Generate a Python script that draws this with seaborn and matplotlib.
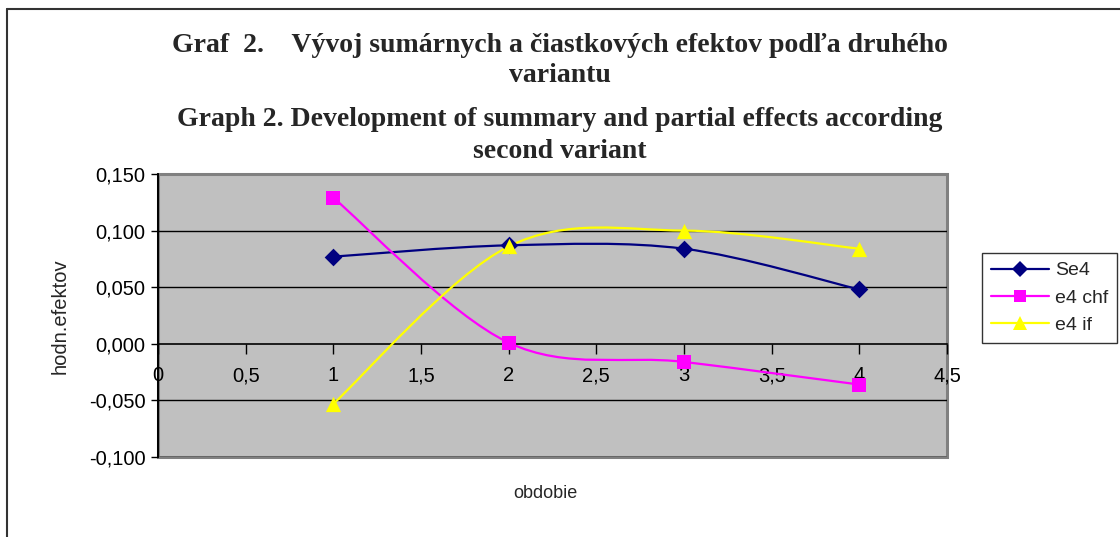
import numpy as np
import pandas as pd
import matplotlib
matplotlib.use("Agg")
import matplotlib.pyplot as plt
import seaborn as sns
from matplotlib.path import Path
from matplotlib.patches import PathPatch
from matplotlib.lines import Line2D
import matplotlib.ticker as ticker

sns.set_style("white")
plt.rcParams.update({'font.family': ['Liberation Sans', 'DejaVu Sans']})

### data ###
periods = [1, 2, 3, 4]
se4 = [0.077, 0.087, 0.084, 0.048]
e4_chf = [0.129, 0.001, -0.016, -0.036]
e4_if = [-0.053, 0.086, 0.100, 0.084]
series_names = ['Se4', 'e4 chf', 'e4 if']
y_ticks = [-0.1, -0.05, 0.0, 0.05, 0.1, 0.15]
x_ticks = [0, 0.5, 1, 1.5, 2, 2.5, 3, 3.5, 4, 4.5]

colors = {'Se4': '#000080', 'e4 chf': '#FF00FF', 'e4 if': '#FFFF00'}
markers = {'Se4': 'D', 'e4 chf': 's', 'e4 if': '^'}
msizes = {'Se4': 9, 'e4 chf': 10, 'e4 if': 11}

df = pd.DataFrame({
    'obdobie': periods * 3,
    'value': se4 + e4_chf + e4_if,
    'series': [s for s in series_names for _ in periods],
})


def smooth_path(xs, ys):
    # excel-like smoothed line: cubic bezier through the points
    pts = np.column_stack([xs, ys])
    n = len(pts)
    verts = [pts[0]]
    codes = [Path.MOVETO]
    for i in range(n - 1):
        p0 = pts[max(i - 1, 0)]
        p1 = pts[i]
        p2 = pts[i + 1]
        p3 = pts[min(i + 2, n - 1)]
        c1 = p1 + (p2 - p0) / 6
        c2 = p2 - (p3 - p1) / 6
        verts += [c1, c2, p2]
        codes += [Path.CURVE4] * 3
    return Path(verts, codes)


fig = plt.figure(figsize=(11.2, 5.37), dpi=100)
ax = fig.add_axes([158 / 1120, 1 - 457 / 537, 789 / 1120, 283 / 537])
ax.set_facecolor('#C0C0C0')

# gridlines
for yv in y_ticks:
    if yv not in (0.0, 0.15):
        ax.axhline(yv, color='black', lw=1, zorder=1)

# smoothed lines
for name in series_names:
    d = df[df['series'] == name]
    patch = PathPatch(smooth_path(d['obdobie'].values, d['value'].values),
                      facecolor='none', edgecolor=colors[name], lw=1.6, zorder=3)
    ax.add_patch(patch)

# markers
for name in series_names:
    d = df[df['series'] == name]
    sns.scatterplot(data=d, x='obdobie', y='value', marker=markers[name],
                    color=colors[name], s=msizes[name] ** 2, edgecolor=colors[name],
                    linewidth=0, ax=ax, zorder=4, legend=False)

ax.set_xlim(0, 4.5)
ax.set_ylim(-0.1, 0.15)
ax.set_xlabel('')
ax.set_ylabel('')

fmt = lambda v, p: f'{v:.3f}'.replace('.', ',')
ax.yaxis.set_major_locator(ticker.FixedLocator(y_ticks))
ax.yaxis.set_major_formatter(ticker.FuncFormatter(fmt))
xfmt = lambda v, p: (f'{v:g}').replace('.', ',')
ax.xaxis.set_major_locator(ticker.FixedLocator(x_ticks))
ax.xaxis.set_major_formatter(ticker.FuncFormatter(xfmt))

# x axis crossing at zero
ax.spines['bottom'].set_position(('data', 0))
ax.spines['bottom'].set_color('black')
ax.spines['bottom'].set_linewidth(1.2)
ax.spines['left'].set_color('black')
ax.spines['left'].set_linewidth(1.2)
ax.spines['top'].set_visible(False)
ax.spines['right'].set_visible(False)
ax.tick_params(axis='x', direction='out', length=7, width=1, pad=9, labelsize=14.5, colors='black')
ax.tick_params(axis='y', direction='out', length=5, width=1, pad=4, labelsize=14.5, colors='black')
ax.tick_params(left=True, bottom=True)

# gray plot area frame
frame = plt.Rectangle((0, 0), 1, 1, transform=ax.transAxes, fill=False,
                      edgecolor='#808080', lw=2.2, zorder=0.5, clip_on=False)
ax.add_patch(frame)
ax.plot([0, 0], [0, 1], transform=ax.transAxes, color='black', lw=1.2, zorder=5, clip_on=False)

fig.text(60 / 1120, 1 - 316 / 537, 'hodn.efektov', rotation=90, ha='center', va='center', fontsize=14.5)
fig.text(545 / 1120, 1 - 493 / 537, 'obdobie', ha='center', va='center', fontsize=13)

# titles
title_lines = ['Graf  2.    Vývoj sumárnych a čiastkových efektov podľa druhého',
               'variantu',
               'Graph 2. Development of summary and partial effects according',
               'second variant']
title_y = [45, 76, 119, 151]
for t, yy in zip(title_lines, title_y):
    fig.text(560 / 1120, 1 - yy / 537, t, ha='center', va='center', fontsize=20,
             fontweight='bold', family=['Liberation Serif', 'DejaVu Serif'])

# legend
handles = [Line2D([], [], color=colors[n], marker=markers[n], markersize=msizes[n] - 1,
                  lw=1.6, markeredgewidth=0) for n in series_names]
leg = fig.legend(handles, series_names, loc='center left',
                 bbox_to_anchor=(982 / 1120, 1 - 298 / 537), frameon=True,
                 fancybox=False, edgecolor='black', fontsize=14, handlelength=3,
                 borderpad=0.45, labelspacing=0.5, handletextpad=0.3, borderaxespad=0)
leg.get_frame().set_linewidth(1)

# outer border (top and left)
fig.add_artist(Line2D([7 / 1120, 7 / 1120], [0, 1 - 9 / 537], color='#333333', lw=1.5))
fig.add_artist(Line2D([7 / 1120, 1], [1 - 9 / 537, 1 - 9 / 537], color='#333333', lw=1.5))

fig.savefig('out.png', dpi=100)
